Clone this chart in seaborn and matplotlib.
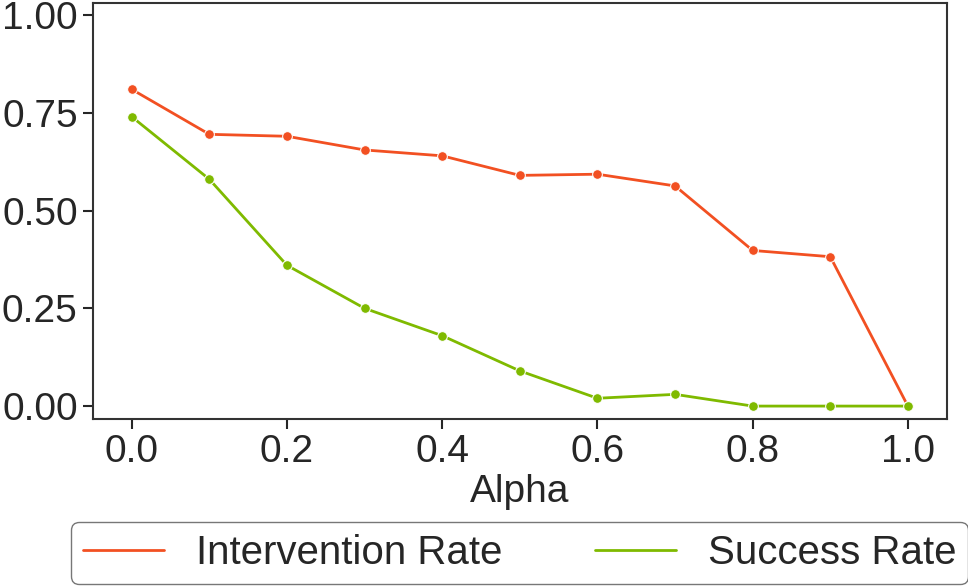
import matplotlib
matplotlib.use("Agg")
import matplotlib.pyplot as plt
import seaborn as sns
import pandas as pd

alpha = [0.0, 0.1, 0.2, 0.3, 0.4, 0.5, 0.6, 0.7, 0.8, 0.9, 1.0]
intervention_rate = [0.81, 0.695, 0.69, 0.655, 0.64, 0.59, 0.593, 0.563, 0.398, 0.382, 0.0]
success_rate = [0.74, 0.58, 0.36, 0.25, 0.18, 0.09, 0.02, 0.03, 0.0, 0.0, 0.0]
y_ticks = [0.0, 0.25, 0.5, 0.75, 1.0]

df = pd.DataFrame({
    "Alpha": alpha * 2,
    "Rate": intervention_rate + success_rate,
    "Metric": ["Intervention Rate"] * len(alpha) + ["Success Rate"] * len(alpha),
})

sns.set_style("ticks")
plt.rcParams["font.family"] = ["Liberation Sans", "DejaVu Sans"]

fig, ax = plt.subplots(figsize=(9.68, 5.86), dpi=100)
sns.lineplot(
    data=df,
    x="Alpha",
    y="Rate",
    hue="Metric",
    marker="o",
    markersize=7,
    linewidth=2,
    palette=["#F25022", "#7FBA00"],
    ax=ax,
)

ax.set_ylim(-0.033, 1.031)
ax.set_yticks(y_ticks)
ax.set_yticklabels([f"{t:.2f}" for t in y_ticks])
ax.set_xticks([0.0, 0.2, 0.4, 0.6, 0.8, 1.0])
ax.set_xlim(-0.05, 1.05)
ax.tick_params(labelsize=28, length=7, width=1.5, pad=4)
ax.set_xlabel("Alpha", fontsize=28, labelpad=3)
ax.set_ylabel("")
for s in ax.spines.values():
    s.set_linewidth(1.5)
    s.set_color("#333333")

ax.legend_.remove()
handles, labels = ax.get_legend_handles_labels()
for h in handles:
    h.set_marker("")
fig.legend(
    handles, labels, loc="lower center", ncol=2, fontsize=29,
    bbox_to_anchor=(0.537, 0.0), borderaxespad=0.05, frameon=True,
    edgecolor="#555555", handlelength=2, handletextpad=0.8,
    columnspacing=2.3, borderpad=0.3,
)

fig.subplots_adjust(left=0.096, right=0.978, top=0.995, bottom=0.285)
fig.savefig("out.png", dpi=100)
